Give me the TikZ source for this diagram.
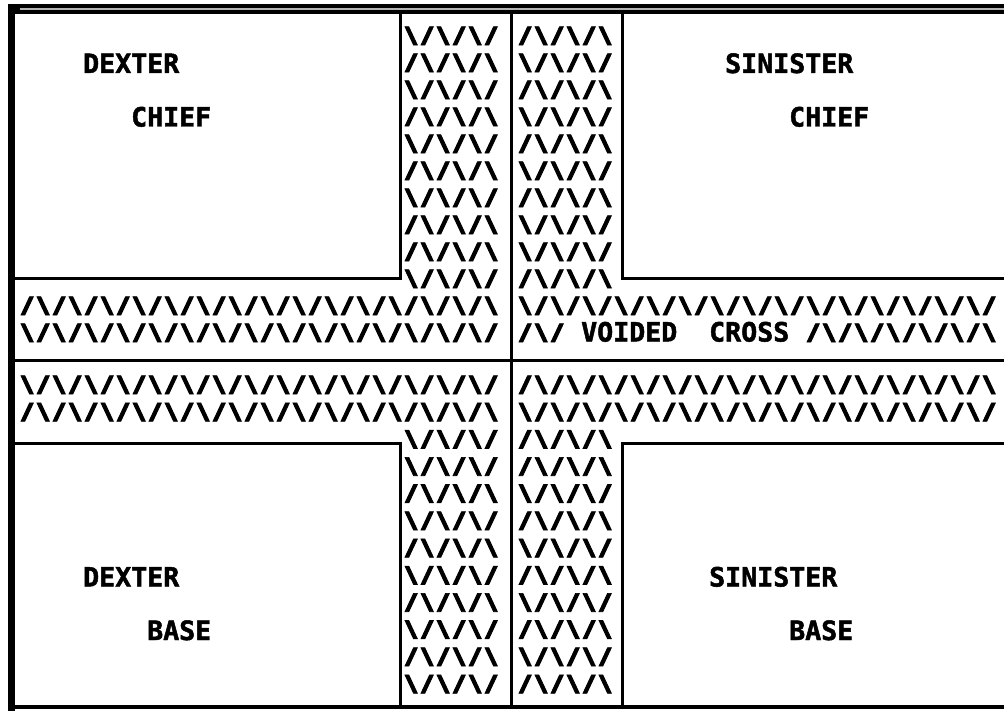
\documentclass[tikz,border=0pt]{standalone}
\usepackage{fontspec}
\usepackage{graphicx}
\newfontfamily\pfont{DejaVu Sans Bold}[FakeBold=3]
\newfontfamily\lfont{DejaVu Sans Mono Bold}[FakeBold=1.8]
\newcommand\cF{\makebox[16pt][c]{\scalebox{1.45}[0.97]{/}}}
\newcommand\cB{\makebox[16pt][c]{\scalebox{1.45}[0.97]{\textbackslash}}}
\newcommand\pLam{\cF\cB}
\newcommand\pVee{\cB\cF}
\newcommand\rep[2]{\foreach \n in {1,...,#1}{#2}}
\begin{document}
\begin{tikzpicture}[x=1pt,y=-1pt,
  pat/.style={anchor=base west, inner sep=0pt, font=\pfont\fontsize{23}{27}\selectfont},
  lab/.style={anchor=base west, inner sep=0pt, font=\lfont\fontsize{26.6}{27}\selectfont},
  rule/.style={line width=3pt, line cap=rect}]
\useasboundingbox (0,0) rectangle (1004,711);
% outer frame
\draw[line width=10pt] (8,9) -- (1004,9);
\draw[line width=1.2pt, gray!60] (20,9) -- (1004,9);
\draw[line width=7pt] (11.5,4) -- (11.5,711);
\draw[line width=4pt] (15,707) -- (1004,707);
% quadrants
\draw[rule] (15,279) -- (400,279) -- (400,13);
\draw[rule] (622,13) -- (622,279) -- (1004,279);
\draw[rule] (15,443) -- (400,443) -- (400,707);
\draw[rule] (1004,443) -- (622,443) -- (622,707);
\draw[rule] (511,13) -- (511,707);
\draw[rule] (15,360) -- (1004,360);
% upper vertical strips
\node[pat] (ul0) at (403,43)  {\rep{3}{\pVee}};
\node[pat] (ul1) at (403,70)  {\rep{3}{\pLam}};
\node[pat] (ul2) at (403,97)  {\rep{3}{\pVee}};
\node[pat] (ul3) at (403,124) {\rep{3}{\pLam}};
\node[pat] (ul4) at (403,151) {\rep{3}{\pVee}};
\node[pat] (ul5) at (403,178) {\rep{3}{\pLam}};
\node[pat] (ul6) at (403,205) {\rep{3}{\pVee}};
\node[pat] (ul7) at (403,232) {\rep{3}{\pLam}};
\node[pat] (ul8) at (403,259) {\rep{3}{\pLam}};
\node[pat] (ul9) at (403,286) {\rep{3}{\pVee}};
\node[pat] (ur0) at (517,43)  {\rep{3}{\pLam}};
\node[pat] (ur1) at (517,70)  {\rep{3}{\pVee}};
\node[pat] (ur2) at (517,97)  {\rep{3}{\pLam}};
\node[pat] (ur3) at (517,124) {\rep{3}{\pVee}};
\node[pat] (ur4) at (517,151) {\rep{3}{\pLam}};
\node[pat] (ur5) at (517,178) {\rep{3}{\pVee}};
\node[pat] (ur6) at (517,205) {\rep{3}{\pLam}};
\node[pat] (ur7) at (517,232) {\rep{3}{\pVee}};
\node[pat] (ur8) at (517,259) {\rep{3}{\pVee}};
\node[pat] (ur9) at (517,286) {\rep{3}{\pLam}};
% horizontal bands
\node[pat] (hl0) at (19,313) {\rep{15}{\pLam}};
\node[pat] (hl1) at (19,340) {\rep{15}{\pVee}};
\node[pat] (hr0) at (517,313) {\rep{15}{\pVee}};
\node[pat] (hr1a) at (517,340) {\cF\cB\cF};
\node[lab] (voided) at (581,341.5) {VOIDED};
\node[lab] (cross) at (709,341.5) {CROSS};
\node[pat] (hr1b) at (805,340) {\rep{6}{\pLam}};
\node[pat] (hl2) at (19,392) {\rep{15}{\pVee}};
\node[pat] (hl3) at (19,419.2) {\rep{15}{\pLam}};
\node[pat] (hr2) at (517,392) {\rep{15}{\pLam}};
\node[pat] (hr3) at (517,419.2) {\rep{15}{\pVee}};
% lower vertical strips
\node[pat] (ll0) at (403,446.4) {\rep{3}{\pVee}};
\node[pat] (ll1) at (403,473.6) {\rep{3}{\pVee}};
\node[pat] (ll2) at (403,500.8) {\rep{3}{\pLam}};
\node[pat] (ll3) at (403,528)   {\rep{3}{\pVee}};
\node[pat] (ll4) at (403,555.2) {\rep{3}{\pLam}};
\node[pat] (ll5) at (403,582.4) {\rep{3}{\pVee}};
\node[pat] (ll6) at (403,609.6) {\rep{3}{\pLam}};
\node[pat] (ll7) at (403,636.8) {\rep{3}{\pVee}};
\node[pat] (ll8) at (403,664)   {\rep{3}{\pLam}};
\node[pat] (ll9) at (403,691.2) {\rep{3}{\pVee}};
\node[pat] (lr0) at (517,446.4) {\rep{3}{\pLam}};
\node[pat] (lr1) at (517,473.6) {\rep{3}{\pLam}};
\node[pat] (lr2) at (517,500.8) {\rep{3}{\pVee}};
\node[pat] (lr3) at (517,528)   {\rep{3}{\pLam}};
\node[pat] (lr4) at (517,555.2) {\rep{3}{\pVee}};
\node[pat] (lr5) at (517,582.4) {\rep{3}{\pLam}};
\node[pat] (lr6) at (517,609.6) {\rep{3}{\pVee}};
\node[pat] (lr7) at (517,636.8) {\rep{3}{\pLam}};
\node[pat] (lr8) at (517,664)   {\rep{3}{\pVee}};
\node[pat] (lr9) at (517,691.2) {\rep{3}{\pLam}};
% labels
\node[lab] (dc1) at (83,73)    {DEXTER};
\node[lab] (dc2) at (131,126.5) {CHIEF};
\node[lab] (sc1) at (725,73)   {SINISTER};
\node[lab] (sc2) at (789,126.5) {CHIEF};
\node[lab] (db1) at (83,586.5)  {DEXTER};
\node[lab] (db2) at (147,640)   {BASE};
\node[lab] (sb1) at (709,586.5) {SINISTER};
\node[lab] (sb2) at (789,640)   {BASE};
\end{tikzpicture}
\end{document}
